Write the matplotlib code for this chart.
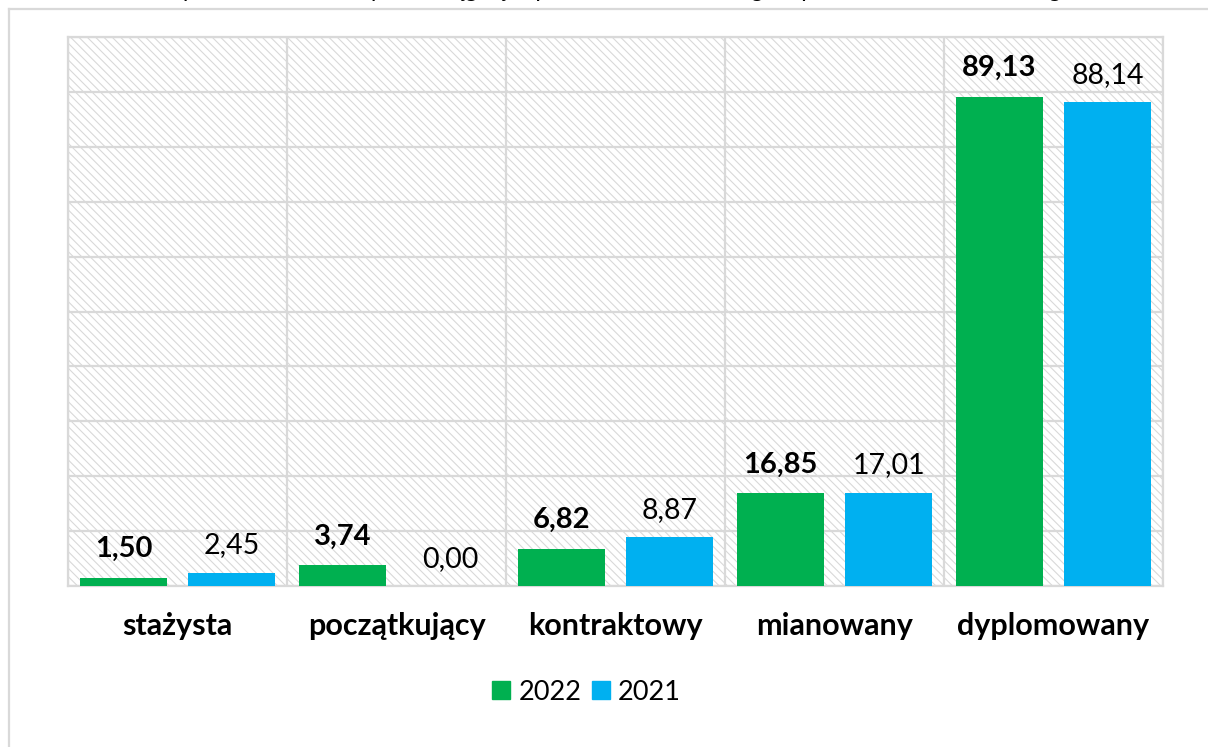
import matplotlib
matplotlib.use("Agg")
import matplotlib.pyplot as plt
from matplotlib.lines import Line2D
import numpy as np

categories = ["stażysta", "początkujący", "kontraktowy", "mianowany", "dyplomowany"]
series_names = ["2022", "2021"]
values_2022 = [1.50, 3.74, 6.82, 16.85, 89.13]
values_2021 = [2.45, 0.00, 8.87, 17.01, 88.14]
title_text = "Wykres 4. Średnie wyniki osiągnięte przez uczniów według stopnia awansu zawodowego"

GREEN = "#00B050"
BLUE = "#00B0F0"
GRID = "#d9d9d9"

plt.rcParams["font.family"] = ["Lato", "DejaVu Sans"]
plt.rcParams["hatch.color"] = "#d3d3d3"
plt.rcParams["hatch.linewidth"] = 0.8

W, H = 1208, 747
fig = plt.figure(figsize=(W / 100, H / 100), dpi=100)

def fx(px):
    return px / W

def fy(py):
    return 1 - py / H

left, right, top, bottom = 68, 1163, 37, 586
ax = fig.add_axes([fx(left), fy(bottom), fx(right - left), (bottom - top) / H])

ax.patch.set_facecolor("white")
ax.patch.set_hatch("\\\\\\\\")
ax.patch.set_edgecolor(GRID)

x = np.arange(len(categories))
bw = 0.397
off = 0.247
ax.bar(x - off, values_2022, bw, color=GREEN, zorder=3, label=series_names[0])
ax.bar(x + off, values_2021, bw, color=BLUE, zorder=3, label=series_names[1])

for xi, v in zip(x, values_2022):
    ax.annotate(f"{v:.2f}".replace(".", ","), (xi - off, v), xytext=(0, 15),
                textcoords="offset points", ha="center", va="baseline",
                fontsize=21, fontweight="bold", color="black", zorder=4)
for xi, v in zip(x, values_2021):
    ax.annotate(f"{v:.2f}".replace(".", ","), (xi + off, v), xytext=(0, 14),
                textcoords="offset points", ha="center", va="baseline",
                fontsize=20.5, color="black", zorder=4)

ax.set_xlim(-0.5, len(categories) - 0.5)
ax.set_ylim(0, 100)
ax.set_yticks(np.arange(0, 101, 10))
ax.set_yticklabels([])
ax.set_xticks(np.arange(-0.5, len(categories), 1.0), minor=False)
ax.set_xticklabels([])
ax.set_xticks(x, minor=True)
ax.set_xticklabels(categories, minor=True, fontsize=22, fontweight="bold")
ax.tick_params(axis="x", which="minor", length=0, pad=19)
ax.tick_params(axis="both", which="major", length=0)
ax.grid(True, which="major", axis="both", color=GRID, linewidth=1.6, zorder=1)
ax.set_axisbelow(True)
for s in ax.spines.values():
    s.set_color(GRID)
    s.set_linewidth(1.6)

handles = [Line2D([], [], marker="s", linestyle="none", markersize=13.5,
                  markerfacecolor=GREEN, markeredgecolor=GREEN),
           Line2D([], [], marker="s", linestyle="none", markersize=13.5,
                  markerfacecolor=BLUE, markeredgecolor=BLUE)]
fig.legend(handles, series_names, loc="center", bbox_to_anchor=(fx(587), fy(692)),
           ncol=2, frameon=False, fontsize=19.5, handlelength=0.6, handletextpad=0.35,
           columnspacing=0.4, borderpad=0)

# outer chart border (left and top visible)
fig.add_artist(Line2D([fx(8.5), fx(8.5)], [fy(8.5), 0], color=GRID, linewidth=1.6))
fig.add_artist(Line2D([fx(8.5), 1], [fy(8.5), fy(8.5)], color=GRID, linewidth=1.6))

# title line, cut off by the top edge as in the reference
fig.text(fx(617), fy(-3), title_text, ha="center", va="baseline",
         fontsize=18, fontstyle="italic", color="black")

fig.savefig("out.png", dpi=100, facecolor="white")
